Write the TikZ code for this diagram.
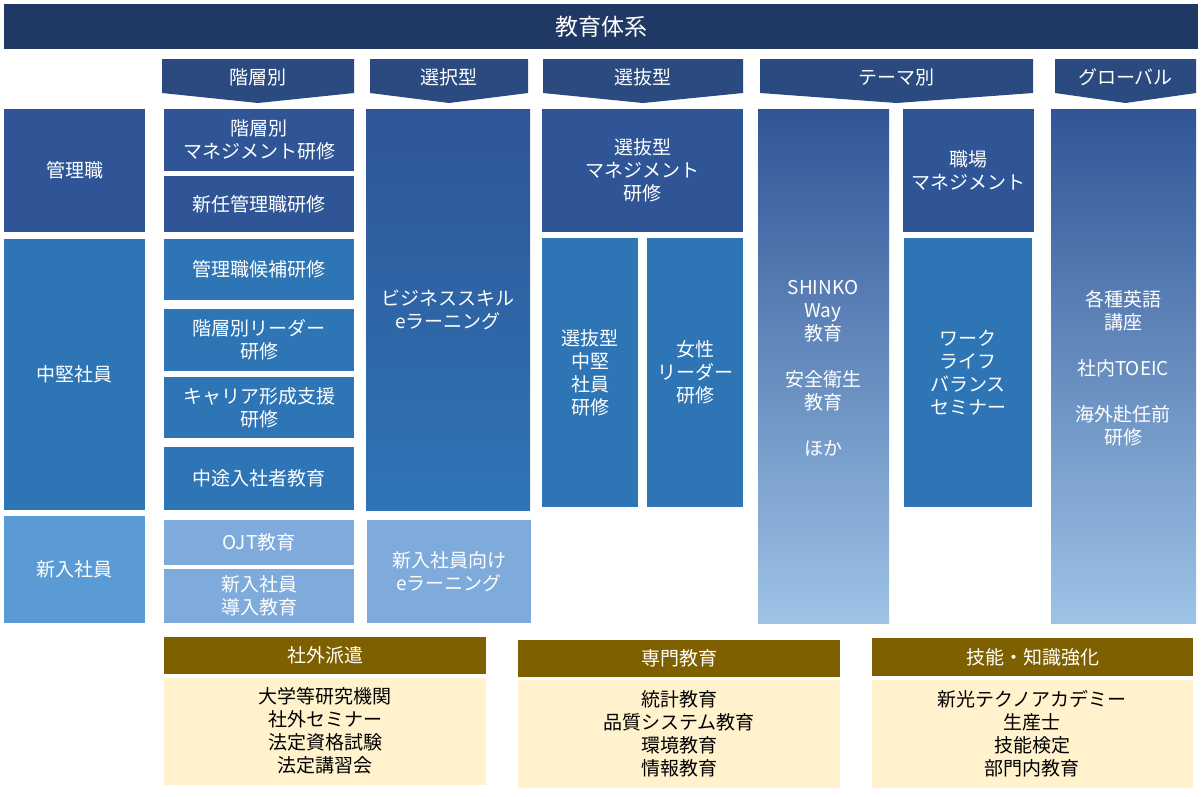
\documentclass[tikz,border=0pt]{standalone}
\usepackage{fontspec}
\setmainfont{Noto Sans CJK JP}
\begin{document}
\begin{tikzpicture}[x=1pt,y=-1pt,
  lbl/.style={text=white,font=\fontsize{19}{23}\selectfont,align=center},
  blk/.style={text=black,font=\fontsize{19}{23}\selectfont,align=center}]
\definecolor{navy}{HTML}{203864}
\definecolor{dk}{HTML}{2F5597}
\definecolor{md}{HTML}{2E75B6}
\definecolor{lt}{HTML}{5B9BD5}
\definecolor{lt2}{HTML}{7EABDB}
\definecolor{pale}{HTML}{9DC3E6}
\definecolor{hd}{HTML}{2A4A80}
\definecolor{br}{HTML}{7F6000}
\definecolor{cr}{HTML}{FFF2CC}
\useasboundingbox (0,0) rectangle (1204,796);
\newcommand{\bx}[6]{\fill[#5] (#1,#2) rectangle (#3,#4); \node[lbl] at ({(#1+#3)/2},{(#2+#4)/2}) {#6};}
\newcommand{\gbx}[6]{\shade[top color=#5,bottom color=pale] (#1,#2) rectangle (#3,#4); \node[lbl] at ({(#1+#3)/2},{(#2+#4)/2}) {#6};}
\newcommand{\pent}[3]{\fill[hd] (#1,59) -- (#2,59) -- (#2,93) -- ({(#1+#2)/2},103) -- (#1,93) -- cycle; \node[lbl] at ({(#1+#2)/2},77) {#3};}
% header
\fill[navy] (4,4) rectangle (1198,49);
\node[lbl,font=\fontsize{23}{27}\selectfont] (title) at (601,27) {教育体系};
\pent{162}{354}{階層別}
\pent{370}{528}{選択型}
\pent{543}{743}{選抜型}
\pent{760}{1033}{テーマ別}
\pent{1055}{1196}{グローバル}
% rows
\bx{4}{109}{145}{232}{dk}{管理職}
\bx{4}{239}{145}{510}{md}{中堅社員}
\bx{4}{516}{145}{623}{lt}{新入社員}
% 階層別
\bx{164}{109}{354}{171}{dk}{階層別\\マネジメント研修}
\bx{164}{176}{354}{232}{dk}{新任管理職研修}
\bx{164}{239}{354}{300}{md}{管理職候補研修}
\bx{164}{309}{354}{371}{md}{階層別リーダー\\研修}
\bx{164}{377}{354}{438}{md}{キャリア形成支援\\研修}
\bx{164}{447}{354}{510}{md}{中途入社者教育}
\bx{164}{520}{354}{565}{lt2}{OJT教育}
\bx{164}{569}{354}{623}{lt2}{新入社員\\導入教育}
% 選択型
\shade[top color=dk,bottom color=md] (366,109) rectangle (530,510);
\node[lbl] at (448,310) {ビジネススキル\\eラーニング};
\bx{367}{520}{531}{623}{lt2}{新入社員向け\\eラーニング}
% 選抜型
\bx{542}{109}{743}{232}{dk}{選抜型\\マネジメント\\研修}
\bx{542}{238}{638}{507}{md}{選抜型\\中堅\\社員\\研修}
\bx{647}{238}{743}{507}{md}{女性\\リーダー\\研修}
% テーマ別
\gbx{758}{109}{889}{623}{dk}{}
\node[lbl] at (823,368) {SHINKO\\Way\\教育\\\\安全衛生\\教育\\\\ほか};
\bx{903}{109}{1034}{232}{dk}{職場\\マネジメント}
\bx{904}{238}{1032}{507}{md}{ワーク\\ライフ\\バランス\\セミナー}
% グローバル
\gbx{1051}{109}{1196}{623}{dk}{}
\node[lbl] at (1123,368) {各種英語\\講座\\\\社内TOEIC\\\\海外赴任前\\研修};
% bottom
\bx{164}{637}{486}{674}{br}{社外派遣}
\fill[cr] (164,678) rectangle (486,785);
\node[blk] at (325,731) {大学等研究機関\\社外セミナー\\法定資格試験\\法定講習会};
\bx{518}{640}{840}{677}{br}{専門教育}
\fill[cr] (518,680) rectangle (840,788);
\node[blk] at (679,734) {統計教育\\品質システム教育\\環境教育\\情報教育};
\bx{872}{638}{1193}{676}{br}{技能・知識強化}
\fill[cr] (872,680) rectangle (1193,788);
\node[blk] at (1032,734) {新光テクノアカデミー\\生産士\\技能検定\\部門内教育};
\end{tikzpicture}
\end{document}
